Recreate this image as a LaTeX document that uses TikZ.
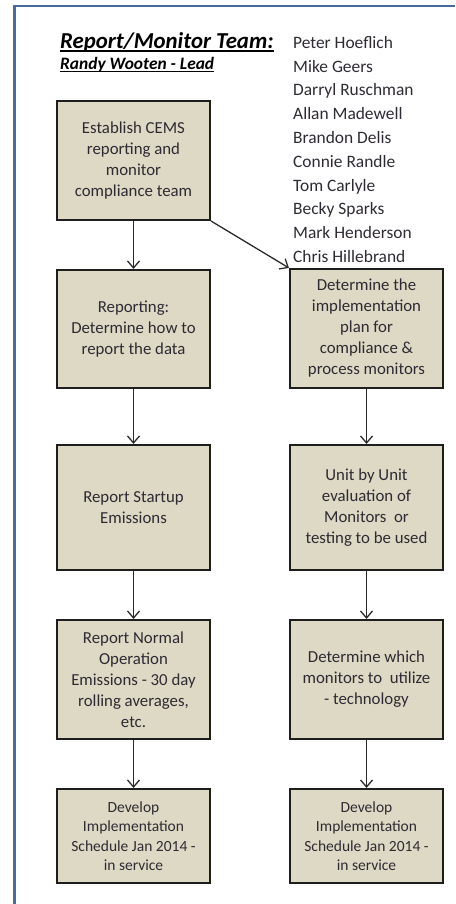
\documentclass[tikz,border=0pt]{standalone}
\usepackage{fontspec}
\setmainfont{Carlito}
\usetikzlibrary{arrows.meta}
\definecolor{frameblue}{HTML}{4A6B9A}
\definecolor{boxfill}{HTML}{DDD9C4}
\definecolor{boxline}{HTML}{1E1E1E}
\definecolor{connline}{HTML}{2A2A2A}
\definecolor{txt}{HTML}{2E2A33}
\begin{document}
\begin{tikzpicture}[x=1pt,y=-1pt,
  stepbox/.style={draw=boxline,line width=1.6pt,fill=boxfill,minimum width=153.5pt,inner sep=0pt,align=center,text=txt,font=\fontsize{16.8}{21}\selectfont},
  smallbox/.style={stepbox,font=\fontsize{15.5}{19.5}\selectfont},
  conn/.style={draw=connline,line width=1.3pt,-{Straight Barb[length=7pt,width=12pt]}},
  person/.style={anchor=base west,inner sep=0pt,text=txt,font=\fontsize{17.4}{20}\selectfont},
  heading/.style={anchor=base west,inner sep=0pt,text=black,font=\bfseries\itshape}]
\useasboundingbox (0,0) rectangle (455,904);
\draw[frameblue,line width=2.5pt] (14.3,904) -- (14.3,6) -- (455,6);

% heading
\node[heading,font=\fontsize{22.8}{24}\selectfont\bfseries\itshape] (title) at (60,48.3) {Report/Monitor Team:};
\draw[line width=1.9pt] ([yshift=-2.6pt]title.base west) -- ([yshift=-2.6pt]title.base east);
\node[heading,font=\fontsize{17.4}{20}\selectfont\bfseries\itshape] (lead) at (60,69.5) {Randy Wooten - Lead};
\draw[line width=1.2pt] ([yshift=-2.4pt]lead.base west) -- ([yshift=-2.4pt]lead.base east);

% team members
\node[person] (p1) at (293,48.3) {Peter Hoeflich};
\node[person] (p2) at (293,72.1) {Mike Geers};
\node[person] (p3) at (293,95.9) {Darryl Ruschman};
\node[person] (p4) at (293,119.7) {Allan Madewell};
\node[person] (p5) at (293,143.5) {Brandon Delis};
\node[person] (p6) at (293,167.3) {Connie Randle};
\node[person] (p7) at (293,191.1) {Tom Carlyle};
\node[person] (p8) at (293,214.9) {Becky Sparks};
\node[person] (p9) at (293,238.7) {Mark Henderson};
\node[person] (p10) at (293,262.5) {Chris Hillebrand};

% left column
\node[stepbox,minimum height=119.5pt] (L1) at (133.5,160.5) {Establish CEMS\\reporting and\\monitor\\compliance team};
\node[stepbox,minimum height=118.5pt] (L2) at (133.5,329) {Reporting:\\Determine how to\\report the data};
\node[stepbox,minimum height=125.5pt] (L3) at (133.5,507.5) {Report Startup\\Emissions};
\node[stepbox,minimum height=119.5pt] (L4) at (133.5,679.5) {Report Normal\\Operation\\Emissions - 30 day\\rolling averages,\\etc.};
\node[smallbox,minimum height=94.5pt] (L5) at (133.5,836) {Develop\\Implementation\\Schedule Jan 2014 -\\in service};

% right column
\node[stepbox,minimum height=119.5pt] (R2) at (366.5,328.5) {Determine the\\implementation\\plan for\\compliance \&\\process monitors};
\node[stepbox,minimum height=125.5pt] (R3) at (366.5,507.5) {Unit by Unit\\evaluation of\\Monitors\ \ or\\testing to be used};
\node[stepbox,minimum height=119.5pt] (R4) at (366.5,679.5) {Determine which\\monitors to\ \ utilize\\- technology};
\node[smallbox,minimum height=94.5pt] (R5) at (366.5,836) {Develop\\Implementation\\Schedule Jan 2014 -\\in service};

% connectors
\draw[conn] (L1) -- (L2);
\draw[conn] (L2) -- (L3);
\draw[conn] (L3) -- (L4);
\draw[conn] (L4) -- (L5);
\draw[conn] (L1.south east) -- (R2.north west);
\draw[conn] (R2) -- (R3);
\draw[conn] (R3) -- (R4);
\draw[conn] (R4) -- (R5);
\end{tikzpicture}
\end{document}
